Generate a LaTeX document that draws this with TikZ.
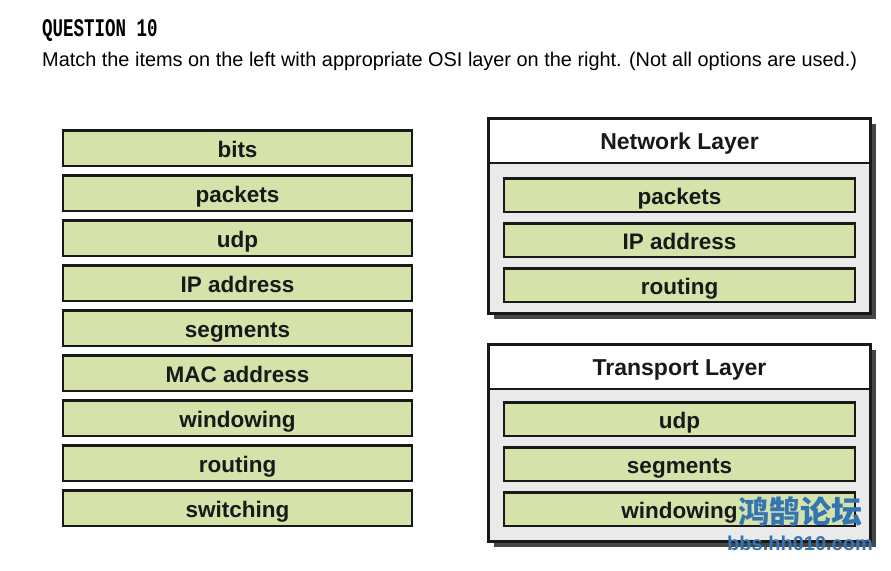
\documentclass[tikz,border=0pt]{standalone}
\usepackage{fontspec}
\setmainfont{Liberation Sans}
\setmonofont{Liberation Mono}
\newfontfamily\cjkfont{Noto Sans CJK SC}
\usetikzlibrary{positioning,shadows}

\definecolor{itemgreen}{RGB}{213,226,170}
\definecolor{panelgray}{RGB}{234,234,234}
\definecolor{shadowgray}{RGB}{70,70,70}
\definecolor{markblue}{RGB}{52,116,178}

\begin{document}
\begin{tikzpicture}[
  x=1pt, y=-1pt,
  node distance=7pt,
  itembox/.style={draw=black!90, line width=2.5pt, fill=itemgreen, minimum width=348.6pt, minimum height=35.5pt, inner sep=0pt, text height=18pt, text depth=0pt, font=\fontsize{22.5}{24}\selectfont\bfseries, text=black!90},
  slotbox/.style={itembox, minimum width=350.6pt, minimum height=33.5pt},
  layerbox/.style={draw=black!90, line width=2.5pt, fill=panelgray, minimum width=382pt, inner sep=0pt, general shadow={fill=shadowgray, shadow xshift=5pt, shadow yshift=-5pt}},
  layerhead/.style={draw=black!90, line width=2.5pt, fill=white, minimum width=382pt, minimum height=44.5pt, inner sep=0pt, text height=17pt, text depth=0pt, font=\fontsize{23}{25}\selectfont\bfseries, text=black!90}
]
  \useasboundingbox (0,0) rectangle (891,570);

  % Question text
  \node[anchor=base west, inner sep=0pt] (qtitle) at (42,36) {\scalebox{1}[1.45]{\fontsize{17.5}{20}\selectfont\ttfamily\bfseries QUESTION 10}};
  \node[anchor=base west, inner sep=0pt] (qtext) at (42,66) {\fontsize{19.9}{22}\selectfont Match the items on the left with appropriate OSI layer on the right. (Not all options are used.)};

  % Items on the left
  \node[itembox] (bits) at (237.5,148) {bits};
  \node[itembox, below=of bits] (packets) {packets};
  \node[itembox, below=of packets] (udp) {udp};
  \node[itembox, below=of udp] (ipaddr) {IP address};
  \node[itembox, below=of ipaddr] (segments) {segments};
  \node[itembox, below=of segments] (macaddr) {MAC address};
  \node[itembox, below=of macaddr] (windowing) {windowing};
  \node[itembox, below=of windowing] (routing) {routing};
  \node[itembox, below=of routing] (switching) {switching};

  % Network Layer
  \node[layerbox, minimum height=195pt] (net) at (679.5,216) {};
  \node[layerhead, anchor=north] (nethead) at (net.north) {Network Layer};
  \node[slotbox] (netpackets) at (679.5,195) {packets};
  \node[slotbox, below=9pt of netpackets] (netip) {IP address};
  \node[slotbox, below=9pt of netip] (netrouting) {routing};

  % Transport Layer
  \node[layerbox, minimum height=197pt] (trans) at (679.5,443) {};
  \node[layerhead, anchor=north] (transhead) at (trans.north) {Transport Layer};
  \node[slotbox] (transudp) at (679.5,419) {udp};
  \node[slotbox, below=9pt of transudp] (transseg) {segments};
  \node[slotbox, below=9pt of transseg] (transwin) {windowing};

  % Watermark
  \node[inner sep=0pt, text=markblue, font=\fontsize{31}{33}\selectfont\cjkfont\bfseries] (markcn) at (800,512) {鸿鹄论坛};
  \node[inner sep=0pt, text=markblue, font=\fontsize{20}{22}\selectfont\bfseries] (markurl) at (800,543) {bbs.hh010.com};

\end{tikzpicture}
\end{document}
